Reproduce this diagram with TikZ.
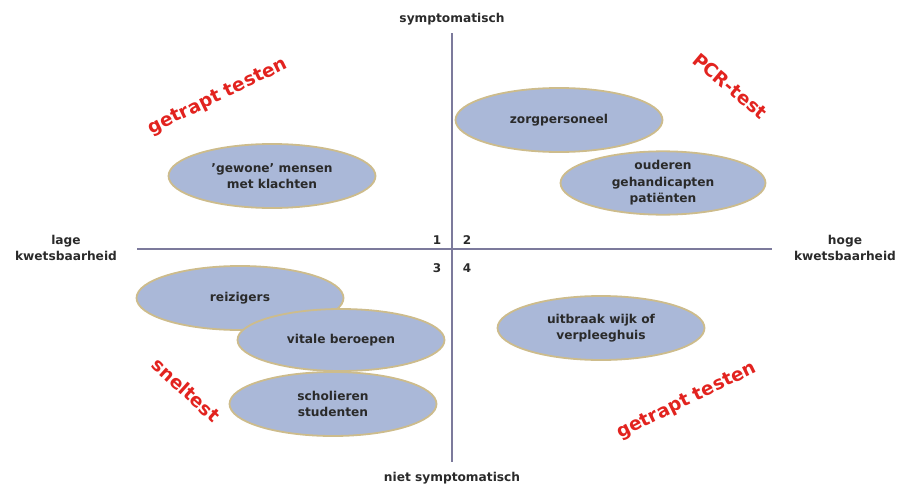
\documentclass[tikz,border=0pt]{standalone}
\usepackage{fontspec}
\setmainfont{DejaVu Sans}
\usetikzlibrary{shapes.geometric}
\definecolor{ellfill}{HTML}{AAB8D8}
\definecolor{ellline}{HTML}{CDBC8C}
\definecolor{axiscol}{HTML}{7C7A9C}
\definecolor{redlab}{HTML}{E2231F}
\definecolor{txt}{HTML}{2A2A2A}
\begin{document}
\begin{tikzpicture}[x=1pt,y=-1pt,
  group/.style={ellipse,draw=ellline,line width=1.8pt,fill=ellfill,
    minimum width=207pt,minimum height=64pt,inner sep=0pt,align=center,
    font=\fontsize{12.2}{16.5}\selectfont\bfseries,text=txt},
  redtxt/.style={font=\fontsize{18.5}{20}\selectfont\bfseries,text=redlab,inner sep=0pt},
  axlab/.style={font=\fontsize{12.2}{16}\selectfont\bfseries,text=txt,align=center,inner sep=0pt},
  quad/.style={font=\fontsize{12}{13}\selectfont\bfseries,text=txt,inner sep=0pt},
  axis/.style={draw=axiscol,line width=1.6pt}]
\useasboundingbox (0,0) rectangle (902,498);
% axes
\coordinate (L) at (137,249);
\coordinate (R) at (772,249);
\coordinate (T) at (452,33);
\coordinate (B) at (452,462);
\draw[axis] (L) -- (R);
\draw[axis] (T) -- (B);
% axis labels
\node[axlab] (top) at (452,19) {symptomatisch};
\node[axlab] (bot) at (452,478) {niet symptomatisch};
\node[axlab] (left) at (66,248) {lage\\kwetsbaarheid};
\node[axlab] (right) at (845,248) {hoge\\kwetsbaarheid};
% quadrant numbers
\node[quad] (q1) at (437,240) {1};
\node[quad] (q2) at (467,240) {2};
\node[quad] (q3) at (437,268) {3};
\node[quad] (q4) at (467,268) {4};
% ellipses
\node[group] (gewone) at (272,176) {'gewone' mensen\\met klachten};
\node[group] (zorg) at (559,120) {zorgpersoneel};
\node[group,minimum width=205pt,minimum height=60pt] (oud) at (663,183) {ouderen\\gehandicapten\\patiënten};
\node[group] (reiz) at (240,298) {reizigers};
\node[group,minimum height=62pt] (vitaal) at (341,340) {vitale beroepen};
\node[group] (schol) at (333,404) {scholieren\\studenten};
\node[group] (uitbr) at (601,328) {uitbraak wijk of\\verpleeghuis};
% red labels
\node[redtxt,rotate=26] (gt1) at (218,97) {getrapt testen};
\node[redtxt,rotate=-40] (pcr) at (730,86) {PCR-test};
\node[redtxt,rotate=-42] (snel) at (186,390) {sneltest};
\node[redtxt,rotate=26] (gt2) at (687,401) {getrapt testen};
\end{tikzpicture}
\end{document}
